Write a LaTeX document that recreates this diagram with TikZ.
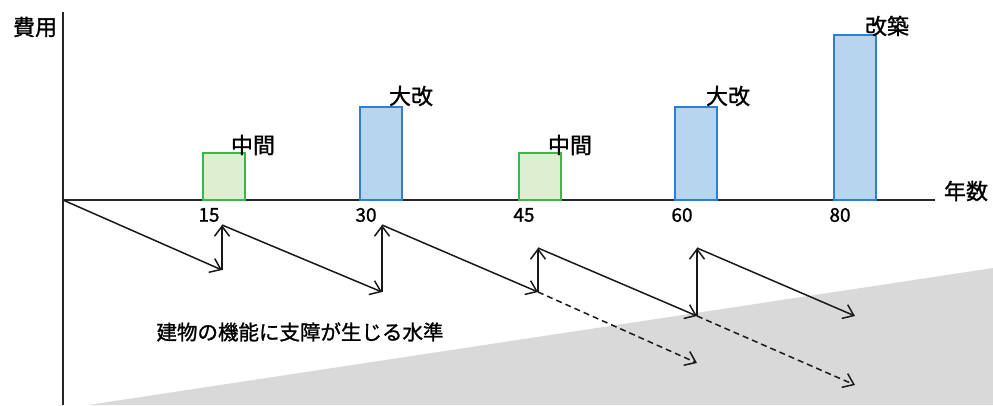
\documentclass[tikz,border=0pt]{standalone}
\usepackage{fontspec}
\setmainfont{Noto Sans CJK JP}[UprightFeatures={FakeBold=1.2}]
\usetikzlibrary{arrows.meta}
\definecolor{gfill}{HTML}{DDEFD0}
\definecolor{gline}{HTML}{3DB54A}
\definecolor{bfill}{HTML}{B8D5EF}
\definecolor{bline}{HTML}{2E7FD2}
\definecolor{zonegray}{HTML}{D9D9D9}
\tikzset{
  axisline/.style={line width=1.6pt, black!85},
  bar/.style={line width=2pt, anchor=south west, minimum width=42pt, inner sep=0pt, outer sep=0pt},
  gbar/.style={bar, draw=gline, fill=gfill},
  bbar/.style={bar, draw=bline, fill=bfill},
  lbl/.style={font=\fontsize{22}{24}\selectfont, inner sep=0pt},
  num/.style={font=\fontsize{19}{21}\selectfont, inner sep=0pt},
  arr/.style={line width=1.5pt, black!90, -{Straight Barb[length=10pt,width=15pt,line width=1.5pt]}},
  darr/.style={arr, dash pattern=on 6pt off 4pt},
}
\begin{document}
\begin{tikzpicture}[x=1pt, y=-1pt]
\useasboundingbox (0,0) rectangle (993,405);
% shaded region
\fill[zonegray] (88,405) -- (993,268) -- (993,405) -- cycle;
% axes
\coordinate (O) at (63,200);
\coordinate (ytop) at (63,12);
\coordinate (ybot) at (63,405);
\coordinate (xend) at (935,200);
\draw[axisline] (ytop) -- (ybot);
\draw[axisline] (O) -- (xend);
\node[lbl] (ylab) at (35,27) {費用};
\node[lbl] (xlab) at (966,191) {年数};
% bars
\node[gbar, minimum height=47pt] (b15) at (203,200) {};
\node[bbar, minimum height=93pt] (b30) at (360,200) {};
\node[gbar, minimum height=47pt] (b45) at (519,200) {};
\node[bbar, minimum height=93pt] (b60) at (675,200) {};
\node[bbar, minimum height=165pt] (b80) at (834,200) {};
\node[lbl] (l15) at (253,145) {中間};
\node[lbl] (l30) at (411,96) {大改};
\node[lbl] (l45) at (570,145) {中間};
\node[lbl] (l60) at (728,96) {大改};
\node[lbl] (l80) at (887,26) {改築};
% tick labels
\node[num] (n15) at (209,215) {15};
\node[num] (n30) at (366,215) {30};
\node[num] (n45) at (524,215) {45};
\node[num] (n60) at (682,215) {60};
\node[num] (n80) at (840,215) {80};
% level text
\node[font=\fontsize{20.5}{22}\selectfont, inner sep=0pt] (lvl) at (300,332) {建物の機能に支障が生じる水準};
% arrow points
\coordinate (a1) at (222,270);
\coordinate (t1) at (222,225);
\coordinate (a2) at (382,292);
\coordinate (t2) at (382,225);
\coordinate (a3) at (538,292);
\coordinate (t3) at (538,248);
\coordinate (a4) at (697,316);
\coordinate (t4) at (697,248);
\coordinate (a5) at (855,316);
\coordinate (d3) at (697,363);
\coordinate (d5) at (855,385);
\draw[arr] (O) -- (a1);
\draw[arr] (a1) -- (t1);
\draw[arr] (t1) -- (a2);
\draw[arr] (a2) -- (t2);
\draw[arr] (t2) -- (a3);
\draw[arr] (a3) -- (t3);
\draw[arr] (t3) -- (a4);
\draw[arr] (a4) -- (t4);
\draw[arr] (t4) -- (a5);
\draw[darr] (a3) -- (d3);
\draw[darr] (a4) -- (d5);
\end{tikzpicture}
\end{document}
